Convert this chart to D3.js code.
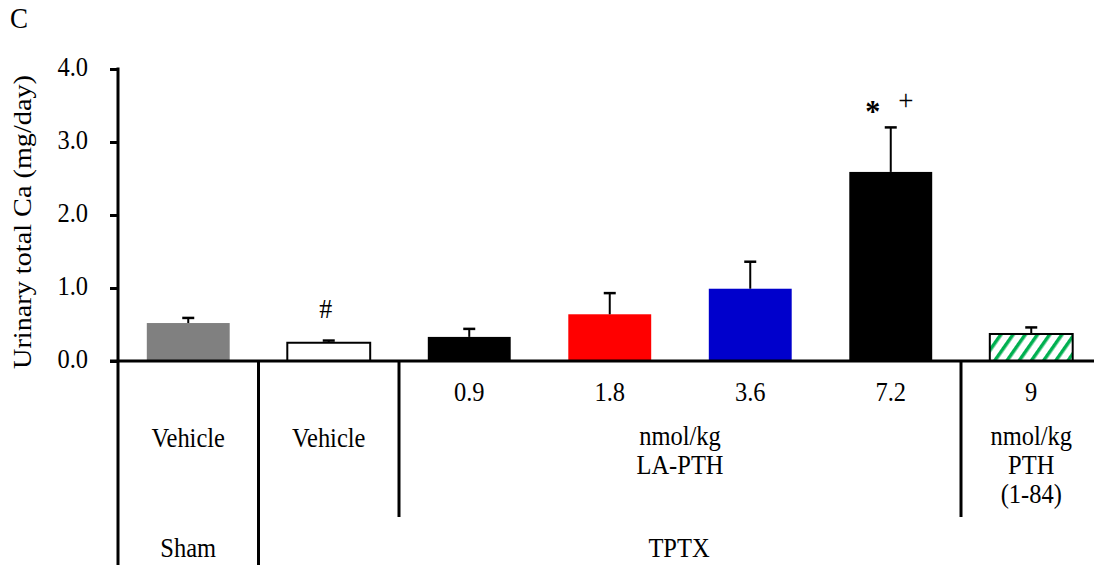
<!DOCTYPE html>
<html>
<head>
<meta charset="utf-8">
<script src="https://cdn.jsdelivr.net/npm/d3@7"></script>
<style>
  body { margin: 0; background: #fff; }
</style>
</head>
<body>
<div id="chart"></div>
<script>
// Urinary total Ca per group
const groups = ["Sham Vehicle", "TPTX Vehicle", "LA-PTH 0.9", "LA-PTH 1.8", "LA-PTH 3.6", "LA-PTH 7.2", "PTH(1-84) 9"];
const means = [0.52, 0.25, 0.33, 0.64, 0.99, 2.59, 0.37];
const errors = [0.07, 0.03, 0.11, 0.29, 0.37, 0.61, 0.09];
const yTicks = [0, 1, 2, 3, 4];
const doseLabels = ["", "", "0.9", "1.8", "3.6", "7.2", "9"];

const fills = ["#808080", "#ffffff", "#000000", "#ff0000", "#0000cc", "#000000", "url(#hatch)"];

const W = 1094, H = 565;
const x0 = 118, y0 = 361;
const FONT = "Liberation Serif, DejaVu Serif, serif";
const FS = 24.5;   // font size
const SY = 1.08;   // the source figure is stretched a little vertically

const svg = d3.select("#chart").append("svg")
    .attr("width", W)
    .attr("height", H);

const defs = svg.append("defs");
const pat = defs.append("pattern")
    .attr("id", "hatch")
    .attr("patternUnits", "userSpaceOnUse")
    .attr("width", 10)
    .attr("height", 10)
    .attr("patternTransform", "rotate(35)");
pat.append("rect").attr("width", 10).attr("height", 10).attr("fill", "#fff");
pat.append("rect").attr("width", 3.5).attr("height", 10).attr("fill", "#00b050");

const x = d3.scaleBand()
    .domain(groups)
    .range([x0, x0 + 7 * 140.5])
    .paddingInner(0.41)
    .paddingOuter(0.205);

const y = d3.scaleLinear()
    .domain([0, 4])
    .range([y0, 69]);

function label(px, py, t, anchor, size) {
    return svg.append("text")
        .attr("transform", `translate(${px},${py}) scale(1,${SY})`)
        .attr("text-anchor", anchor || "middle")
        .style("font-family", FONT)
        .style("font-size", (size || FS) + "px")
        .attr("fill", "#000")
        .text(t);
}

// bars
svg.selectAll(".bar")
    .data(groups)
    .enter()
    .append("rect")
    .attr("class", "bar")
    .attr("x", d => x(d))
    .attr("width", x.bandwidth())
    .attr("y", (d, i) => y(means[i]))
    .attr("height", (d, i) => y0 - y(means[i]))
    .attr("fill", (d, i) => fills[i])
    .attr("stroke", (d, i) => (i === 1 || i === 6) ? "#000" : "none")
    .attr("stroke-width", 2);

// error bars (upper only)
const eb = svg.selectAll(".err")
    .data(groups)
    .enter()
    .append("g")
    .attr("class", "err");
eb.append("line")
    .attr("x1", d => x(d) + x.bandwidth() / 2)
    .attr("x2", d => x(d) + x.bandwidth() / 2)
    .attr("y1", (d, i) => y(means[i]))
    .attr("y2", (d, i) => y(means[i] + errors[i]))
    .attr("stroke", "#000")
    .attr("stroke-width", 2);
eb.append("line")
    .attr("x1", d => x(d) + x.bandwidth() / 2 - 6)
    .attr("x2", d => x(d) + x.bandwidth() / 2 + 6)
    .attr("y1", (d, i) => y(means[i] + errors[i]))
    .attr("y2", (d, i) => y(means[i] + errors[i]))
    .attr("stroke", "#000")
    .attr("stroke-width", 2.5);

// y axis
const yAxis = svg.append("g")
    .attr("transform", `translate(${x0},0)`)
    .call(d3.axisLeft(y).tickValues(yTicks).tickSize(8).tickFormat(d3.format(".1f")));
yAxis.select(".domain").remove();
yAxis.selectAll(".tick line").attr("stroke", "#000").attr("stroke-width", 3);
yAxis.selectAll(".tick text")
    .attr("x", null)
    .attr("y", null)
    .attr("dy", null)
    .attr("transform", `translate(-30,6) scale(1,${SY})`)
    .style("font-family", FONT)
    .style("font-size", FS + "px")
    .attr("fill", "#000");
svg.append("line")
    .attr("x1", x0).attr("x2", x0)
    .attr("y1", y(4) - 1.5).attr("y2", H)
    .attr("stroke", "#000").attr("stroke-width", 3);

// x axis line
svg.append("line")
    .attr("x1", x0 - 8).attr("x2", W)
    .attr("y1", y0).attr("y2", y0)
    .attr("stroke", "#000").attr("stroke-width", 3);

// group separators below axis
const step = x.step();
const sepBounds = [{ k: 1, bottom: H }, { k: 2, bottom: 517 }, { k: 6, bottom: 517 }];
svg.selectAll(".sep")
    .data(sepBounds)
    .enter()
    .append("line")
    .attr("x1", d => x0 + d.k * step)
    .attr("x2", d => x0 + d.k * step)
    .attr("y1", y0)
    .attr("y2", d => d.bottom)
    .attr("stroke", "#000")
    .attr("stroke-width", 3);

const cx = i => x(groups[i]) + x.bandwidth() / 2;

// dose row
doseLabels.forEach((d, i) => { if (d) label(cx(i), 401, d); });

const mid = (cx(2) + cx(5)) / 2;
label(cx(0), 447, "Vehicle");
label(cx(1), 447, "Vehicle");
label(mid, 445, "nmol/kg");
label(mid, 474, "LA-PTH");
label(cx(6), 445, "nmol/kg");
label(cx(6), 474, "PTH");
label(cx(6), 503, "(1-84)");
label(cx(0), 557, "Sham");
label(mid - 1, 557, "TPTX");

// significance marks
label(cx(1) - 3, 318, "#", "middle", 26);
label(cx(5) - 18, 122, "*", "middle", 30).style("font-weight", "bold");
label(cx(5) + 15, 110, "+", "middle", 27);

// y label
svg.append("text")
    .attr("transform", `translate(31,222) scale(1,${SY + 0.05}) rotate(-90)`)
    .attr("text-anchor", "middle")
    .style("font-family", FONT)
    .style("font-size", (FS + 0.5) + "px")
    .attr("fill", "#000")
    .text("Urinary total Ca (mg/day)");

// panel letter
label(10, 28, "C", "start", 27);
</script>
</body>
</html>
